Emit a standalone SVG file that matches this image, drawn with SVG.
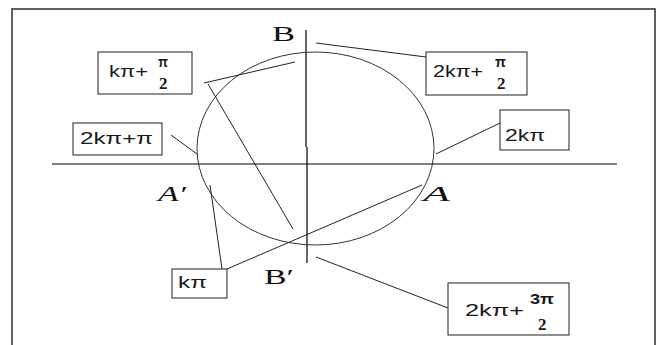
<svg xmlns="http://www.w3.org/2000/svg" width="661" height="345" viewBox="0 0 661 345">
<style>
.bg{fill:#ffffff}
.frame{fill:none;stroke:#3a3a3a;stroke-width:1.6}
.axis{fill:none;stroke:#000;stroke-width:1.2}
.circ{fill:none;stroke:#333;stroke-width:1}
.box{fill:#fff;stroke:#333;stroke-width:1.1}
.con{fill:none;stroke:#222;stroke-width:1}
.t{font-family:"Liberation Sans","DejaVu Sans",sans-serif;font-size:17px;fill:#1a1a1a}
.n{font-family:"Liberation Sans","DejaVu Sans",sans-serif;font-size:15px;font-weight:bold;fill:#1a1a1a}
.f{font-family:"Liberation Serif","DejaVu Serif",serif;font-size:17px;font-weight:bold;fill:#1a1a1a}
.lbl{font-family:"Liberation Serif","DejaVu Serif",serif;font-size:22px;fill:#111}
.lbli{font-family:"Liberation Serif","DejaVu Serif",serif;font-size:22px;font-style:italic;fill:#111}
</style>
<rect class="bg" x="0" y="0" width="661" height="345"/>
<rect class="frame" x="12" y="9" width="643" height="345"/>
<g id="axes">
<line class="axis" x1="52" y1="164" x2="617" y2="164"/>
<line class="axis" x1="306" y1="30" x2="306" y2="147"/>
<line class="axis" x1="307" y1="147" x2="307" y2="263"/>
</g>
<g id="circle">
<ellipse class="circ" cx="315.5" cy="148.5" rx="118.5" ry="96.5"/>
</g>
<g id="labels">
<text class="lbl" x="272" y="41" textLength="23" lengthAdjust="spacingAndGlyphs">B</text>
<text class="lbli" x="158" y="201" textLength="28" lengthAdjust="spacingAndGlyphs">A′</text>
<text class="lbli" x="423" y="201" textLength="27" lengthAdjust="spacingAndGlyphs">A</text>
<text class="lbl" x="264" y="284" textLength="30" lengthAdjust="spacingAndGlyphs">B′</text>
</g>
<g id="connectors">
<line class="con" x1="316" y1="43" x2="426" y2="57"/>
<line class="con" x1="204" y1="83" x2="295" y2="62"/>
<line class="con" x1="208" y1="84" x2="293" y2="229"/>
<line class="con" x1="171" y1="135" x2="197" y2="154"/>
<line class="con" x1="500" y1="123" x2="436" y2="154"/>
<line class="con" x1="210" y1="185" x2="222" y2="269"/>
<line class="con" x1="227" y1="269" x2="422" y2="185"/>
<line class="con" x1="316" y1="257" x2="448" y2="308"/>
</g>
<g id="node-kpi-half">
<rect class="box" x="98" y="52" width="94" height="42"/>
<text class="t" x="109" y="77" textLength="39" lengthAdjust="spacingAndGlyphs">kπ+</text>
<text class="n" x="158" y="67" textLength="10" lengthAdjust="spacingAndGlyphs">π</text>
<text class="f" x="159" y="89">2</text>
</g>
<g id="node-2kpi-pi">
<rect class="box" x="73" y="123" width="89" height="32"/>
<text class="t" x="80" y="144" textLength="73" lengthAdjust="spacingAndGlyphs">2kπ+π</text>
</g>
<g id="node-2kpi-half">
<rect class="box" x="426" y="52" width="101" height="43"/>
<text class="t" x="433" y="77" textLength="50" lengthAdjust="spacingAndGlyphs">2kπ+</text>
<text class="n" x="495" y="67" textLength="11" lengthAdjust="spacingAndGlyphs">π</text>
<text class="f" x="497" y="89">2</text>
</g>
<g id="node-2kpi">
<rect class="box" x="500" y="110" width="69" height="40"/>
<text class="t" x="505" y="141" textLength="40" lengthAdjust="spacingAndGlyphs">2kπ</text>
</g>
<g id="node-kpi">
<rect class="box" x="172" y="269" width="55" height="29"/>
<text class="t" x="178" y="288" textLength="29" lengthAdjust="spacingAndGlyphs">kπ</text>
</g>
<g id="node-2kpi-3half">
<rect class="box" x="448" y="283" width="121" height="52"/>
<text class="t" x="465" y="316" textLength="59" lengthAdjust="spacingAndGlyphs">2kπ+</text>
<text class="n" x="530" y="304" textLength="24" lengthAdjust="spacingAndGlyphs">3π</text>
<text class="f" x="538" y="330">2</text>
</g>
</svg>
